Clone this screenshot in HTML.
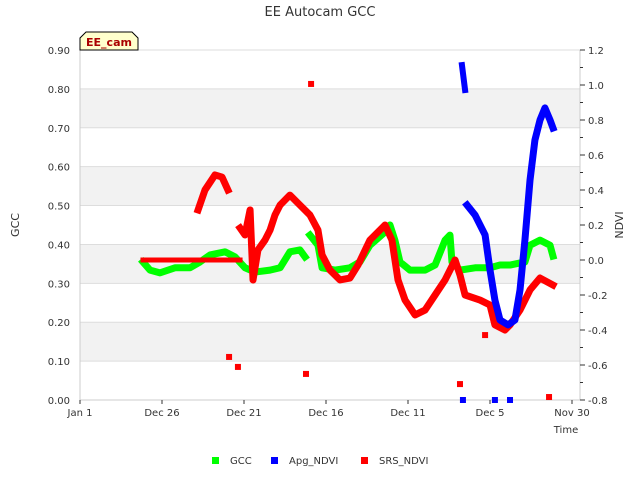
<!DOCTYPE html>
<html><head><meta charset="utf-8"><style>
body{margin:0;background:#fff;font-family:"DejaVu Sans","Liberation Sans",sans-serif}
text{font-family:"DejaVu Sans","Liberation Sans",sans-serif}
</style></head><body>
<svg width="640" height="480" xmlns="http://www.w3.org/2000/svg">
<g id="grid"></g>
<g id="axes"></g>
<g id="series"></g>
<text x="320" y="16" text-anchor="middle" font-size="13" fill="#333">EE Autocam GCC</text>
<text x="19" y="225" text-anchor="middle" font-size="11" fill="#333" transform="rotate(-90 19 225)">GCC</text>
<text x="623" y="225" text-anchor="middle" font-size="11" fill="#333" transform="rotate(-90 623 225)">NDVI</text>
<text x="566" y="433" text-anchor="middle" font-size="10" fill="#333">Time</text>
<g>
<path d="M80,50 L80,38 L86,32 L132,32 L138,38 L138,50 Z" fill="#ffffcc" stroke="#000" stroke-width="1"/>
<text x="109" y="46" text-anchor="middle" font-size="11" font-weight="bold" fill="#aa0000">EE_cam</text>
</g>
<g>
<rect x="212" y="457" width="7" height="7" fill="#00ff00"/>
<text x="230" y="464" font-size="10" fill="#333">GCC</text>
<rect x="271" y="457" width="7" height="7" fill="#0000ff"/>
<text x="289" y="464" font-size="10" fill="#333">Apg_NDVI</text>
<rect x="361" y="457" width="7" height="7" fill="#ff0000"/>
<text x="379" y="464" font-size="10" fill="#333">SRS_NDVI</text>
</g>
</svg>
<script>
// x = days before Jan 1; GCC left axis; NDVI right axis
const xTickLabels=["Jan 1","Dec 26","Dec 21","Dec 16","Dec 11","Dec 5","Nov 30"];
const xTickDays=[0,5,10,15,20,25,30];
const gccTicks=[0,0.1,0.2,0.3,0.4,0.5,0.6,0.7,0.8,0.9];
const ndviTicks=[-0.8,-0.6,-0.4,-0.2,0,0.2,0.4,0.6,0.8,1.0,1.2];
const gccX=[3.84,4.27,4.88,5.79,6.71,7.32,7.93,8.85,9.45,10.06,10.67,11.59,12.2,12.8,13.41,13.72];
const gccY=[0.355,0.334,0.327,0.340,0.340,0.355,0.373,0.381,0.368,0.340,0.329,0.334,0.340,0.381,0.386,0.368];
const gcc2X=[14.02,14.51,14.76,15.55,16.46,17.07,17.68,18.6,18.9,19.2,19.51,20.12,21.04,21.65,22.26,22.56,22.68,23.17,24.09,25.0,25.61,26.22,27.13,27.44,28.05,28.66,28.84];
const gcc2Y=[0.424,0.398,0.340,0.334,0.340,0.355,0.398,0.432,0.450,0.411,0.355,0.334,0.334,0.347,0.411,0.424,0.355,0.334,0.340,0.340,0.347,0.347,0.355,0.398,0.411,0.398,0.370];
const srsFlatX=[3.84,9.76];
const srsFlatY=[0.0,0.0];
const srs1X=[7.2,7.62,8.23,8.66,9.02];
const srs1Y=[0.286,0.4,0.486,0.474,0.4];
const srs2X=[9.76,10.06,10.37,10.55,10.85,11.28,11.59,11.89,12.2,12.8,13.41,14.02,14.51,14.76,15.24,15.85,16.46,16.95,17.68,18.6,19.02,19.39,19.82,20.43,21.04,21.65,22.26,22.87,23.17,23.48,24.39,25.0,25.3,25.91,26.22,26.83,27.44,28.05,28.84];
const srs2Y=[0.183,0.143,0.286,-0.114,0.057,0.114,0.171,0.257,0.314,0.371,0.314,0.257,0.171,0.029,-0.057,-0.114,-0.103,-0.029,0.114,0.2,0.114,-0.114,-0.229,-0.314,-0.286,-0.2,-0.114,0.0,-0.086,-0.2,-0.229,-0.257,-0.371,-0.4,-0.371,-0.286,-0.171,-0.103,-0.143];
const srsOutX=[9.09,9.63,13.78,14.09,23.17,24.7,28.6];
const srsOutY=[-0.554,-0.611,-0.651,1.006,-0.709,-0.429,-0.783];
const apg1X=[23.29,23.48];
const apg1Y=[1.114,0.971];
const apg2X=[23.6,24.09,24.7,25.0,25.3,25.61,26.1,26.52,26.83,27.13,27.44,27.74,28.05,28.35,28.66,28.84];
const apg2Y=[0.314,0.257,0.143,-0.057,-0.229,-0.343,-0.371,-0.343,-0.171,0.114,0.457,0.686,0.8,0.869,0.8,0.754];
const apgOutX=[23.35,25.3,26.22];
const apgOutY=[-0.8,-0.8,-0.8];

const L=80,R=580,T=50,B=400;
const NS="http://www.w3.org/2000/svg";
const xs=d=>L+d*16.4;
const yg=v=>B-v/0.9*(B-T);
const yn=v=>B-(v+0.8)/2.0*(B-T);
function mk(tag,attrs,parent){const e=document.createElementNS(NS,tag);for(const k in attrs)e.setAttribute(k,attrs[k]);parent.appendChild(e);return e;}
const grid=document.getElementById('grid'),axes=document.getElementById('axes'),ser=document.getElementById('series');
mk('rect',{x:L,y:T,width:R-L,height:B-T,fill:'#fff'},grid);
for(let i=1;i<9;i+=2){const r=mk('rect',{x:L,y:yg(gccTicks[i]+0.1),width:R-L,height:yg(gccTicks[i])-yg(gccTicks[i]+0.1),fill:'#f2f2f2'},grid);

}
gccTicks.forEach(v=>{const l=mk('line',{x1:L,x2:R,y1:yg(v),y2:yg(v),stroke:'#dddddd'},grid);


const t=mk('text',{x:L-10,y:yg(v)+4,'text-anchor':'end','font-size':10,fill:'#333'},axes);t.textContent=v.toFixed(2);

});
mk('line',{x1:L,x2:L,y1:T,y2:B,stroke:'#ccc'},axes);
mk('line',{x1:R,x2:R,y1:T,y2:B,stroke:'#ccc'},axes);
mk('line',{x1:L,x2:R,y1:B,y2:B,stroke:'#ccc'},axes);
ndviTicks.forEach((v,i)=>{mk('line',{x1:R,x2:R+5,y1:yn(v),y2:yn(v),stroke:'#333'},axes);
if(i<ndviTicks.length-1)mk('line',{x1:R,x2:R+3,y1:yn(v+0.1),y2:yn(v+0.1),stroke:'#333'},axes);
const t=mk('text',{x:R+8,y:yn(v)+4,'font-size':10,fill:'#333'},axes);t.textContent=(Math.abs(v)<1e-9?0:v).toFixed(1);

});
xTickDays.forEach((d,i)=>{mk('line',{x1:xs(d),x2:xs(d),y1:B,y2:B+4,stroke:'#333'},axes);
const t=mk('text',{x:xs(d),y:B+16,'text-anchor':'middle','font-size':10,fill:'#333'},axes);t.textContent=xTickLabels[i];

});
function line(X,Y,yf,col,name,w){const p=mk('polyline',{points:X.map((x,i)=>xs(x)+','+yf(Y[i])).join(' '),fill:'none',stroke:col,'stroke-width':w||7,'stroke-linejoin':'round','stroke-linecap':'square'},ser);

}
function pts(X,Y,yf,col,name){X.forEach((x,i)=>{const r=mk('rect',{x:xs(x)-3,y:yf(Y[i])-3,width:6,height:6,fill:col},ser);

});}
line(gccX,gccY,yg,'#00ff00','gcc-line');
line(gcc2X,gcc2Y,yg,'#00ff00','gcc-line-2');
line(srsFlatX,srsFlatY,yn,'#ff0000','srs-ndvi-flat',5);
line(srs1X,srs1Y,yn,'#ff0000','srs-ndvi-line-1');
line(srs2X,srs2Y,yn,'#ff0000','srs-ndvi-line-2');
pts(srsOutX,srsOutY,yn,'#ff0000','srs-ndvi-point');
line(apg1X,apg1Y,yn,'#0000ff','apg-ndvi-line-1',6);
line(apg2X,apg2Y,yn,'#0000ff','apg-ndvi-line-2');
pts(apgOutX,apgOutY,yn,'#0000ff','apg-ndvi-point');
</script>
</body></html>
